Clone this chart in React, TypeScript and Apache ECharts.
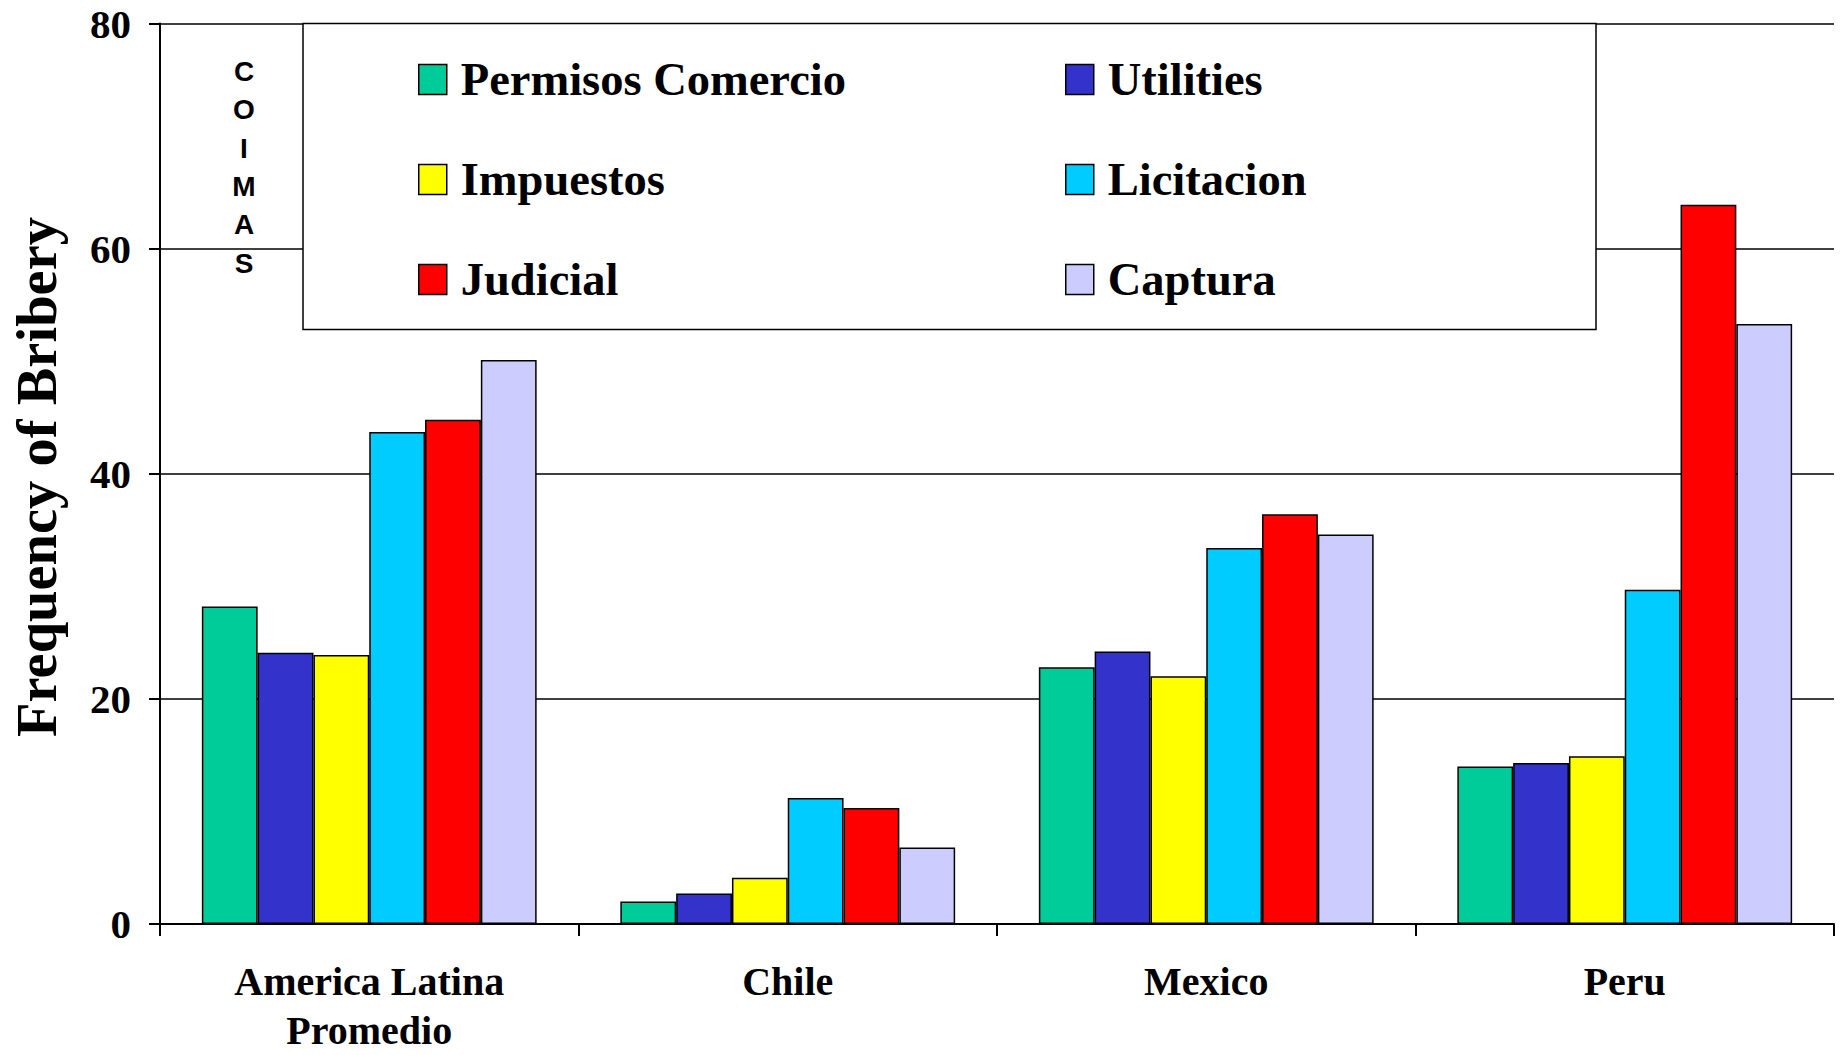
import React, { useEffect, useRef } from "react";
import * as echarts from "echarts";

const categories = ["America Latina\nPromedio", "Chile", "Mexico", "Peru"];
const seriesNames = ["Permisos Comercio", "Utilities", "Impuestos", "Licitacion", "Judicial", "Captura"];
const seriesColors = ["#00CC99", "#3333CC", "#FFFF00", "#00CCFF", "#FF0000", "#CCCCFF"];
const permisosComercio = [28.2, 2.0, 22.8, 14.0];
const utilities = [24.1, 2.7, 24.2, 14.3];
const impuestos = [23.9, 4.1, 22.0, 14.9];
const licitacion = [43.7, 11.2, 33.4, 29.7];
const judicial = [44.8, 10.3, 36.4, 63.9];
const captura = [50.1, 6.8, 34.6, 53.3];
const seriesValues = [permisosComercio, utilities, impuestos, licitacion, judicial, captura];
const yTicks = { min: 0, max: 80, interval: 20 };
const yTitle = "Frequency of Bribery";
const sideNote = "C\nO\nI\nM\nA\nS";

const SERIF = '"Liberation Serif", "Times New Roman", serif';
const SANS = '"Liberation Sans", Arial, sans-serif';

export default function App() {
  const ref = useRef<HTMLDivElement>(null);
  useEffect(() => {
    if (!ref.current) return;
    const chart = echarts.init(ref.current, null, { renderer: "svg" });
    const legendCommon = {
      orient: "vertical",
      top: 56,
      padding: 0,
      itemWidth: 28,
      itemHeight: 30,
      itemGap: 53,
      icon: "rect",
      selectedMode: false,
      itemStyle: { borderColor: "#000", borderWidth: 1.5 },
      textStyle: {
        fontFamily: SERIF,
        fontWeight: "bold",
        fontSize: 46.5,
        lineHeight: 46,
        color: "#000",
        padding: [0, 0, 0, 9],
      },
      z: 5,
    };
    chart.setOption({
      animation: false,
      backgroundColor: "#fff",
      grid: { left: 160, right: 7, top: 23.5, bottom: 126, containLabel: false },
      legend: [
        { ...legendCommon, left: 418, data: [seriesNames[0], seriesNames[2], seriesNames[4]] },
        { ...legendCommon, left: 1065, data: [seriesNames[1], seriesNames[3], seriesNames[5]] },
      ],
      xAxis: {
        type: "category",
        data: categories,
        axisLine: { show: true, lineStyle: { color: "#000", width: 2 } },
        axisTick: { show: true, length: 12, lineStyle: { color: "#000", width: 2 } },
        axisLabel: {
          fontFamily: SERIF,
          fontWeight: "bold",
          fontSize: 40,
          lineHeight: 49,
          color: "#000",
          margin: 33,
          interval: 0,
        },
      },
      yAxis: {
        type: "value",
        min: yTicks.min,
        max: yTicks.max,
        interval: yTicks.interval,
        axisLine: { show: true, lineStyle: { color: "#000", width: 2 } },
        axisTick: { show: true, length: 11, lineStyle: { color: "#000", width: 2 } },
        axisLabel: {
          fontFamily: SERIF,
          fontWeight: "bold",
          fontSize: 41,
          color: "#000",
          margin: 29,
        },
        splitLine: { show: true, lineStyle: { color: "#000", width: 1.5 } },
      },
      series: seriesNames.map((name, i) => ({
        name,
        type: "bar",
        data: seriesValues[i],
        barGap: "0%",
        barCategoryGap: "20%",
        itemStyle: { color: seriesColors[i], borderColor: "#000", borderWidth: 1.5 },
      })),
      graphic: [
        {
          type: "rect",
          z: 3,
          shape: { x: 303, y: 23.5, width: 1293, height: 306 },
          style: { fill: "#fff", stroke: "#000", lineWidth: 1.5 },
        },
        {
          type: "text",
          z: 6,
          x: 244,
          y: 52,
          style: {
            text: sideNote,
            fontFamily: SANS,
            fontWeight: "bold",
            fontSize: 28,
            lineHeight: 38.4,
            fill: "#000",
            align: "center",
            verticalAlign: "top",
          },
        },
        {
          type: "text",
          z: 6,
          x: 37,
          y: 477,
          rotation: Math.PI / 2,
          style: {
            text: yTitle,
            fontFamily: SERIF,
            fontWeight: "bold",
            fontSize: 56.5,
            fill: "#000",
            align: "center",
            verticalAlign: "middle",
          },
        },
      ],
    });
    return () => chart.dispose();
  }, []);
  return (
    <div
      ref={ref}
      style={{ position: "absolute", left: 0, top: 0, width: 1841, height: 1055 }}
    />
  );
}
